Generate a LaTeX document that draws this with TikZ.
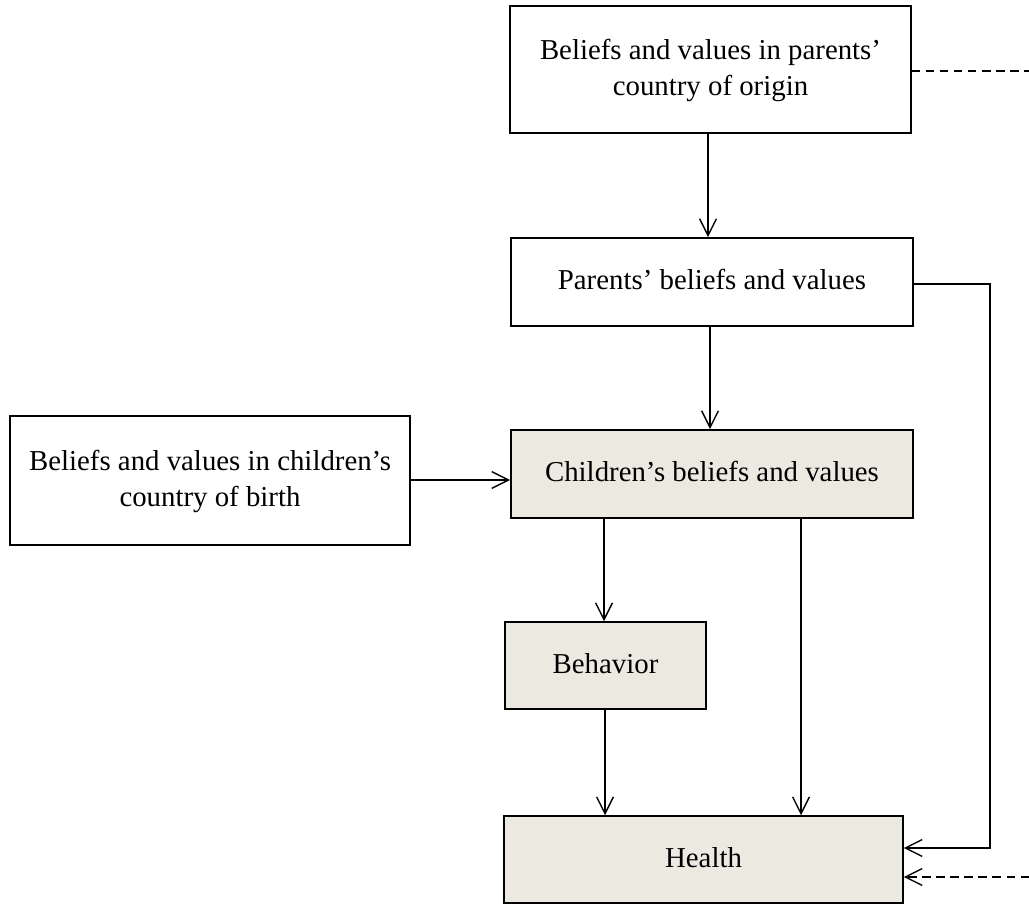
\documentclass[tikz,border=0pt]{standalone}
\usepackage{fontspec}
\setmainfont{Liberation Serif}
\usetikzlibrary{arrows.meta}
\definecolor{beige}{RGB}{236,233,224}
\begin{document}
\begin{tikzpicture}[x=0.025cm,y=-0.025cm]

\tikzset{caja/.style={rectangle,draw,line width=1.2pt,inner sep=0pt,align=center,text depth=0.35em,font=\fontsize{20.5}{25.6}\selectfont,fill=white}}
\tikzset{cajagris/.style={caja,fill=beige}}
\tikzset{flecha/.style={-{Straight Barb[length=4.2mm,width=4.2mm,line width=1pt]},line width=1pt}}

\useasboundingbox (0,0) rectangle (1029,905);

\draw (710.5,69.5) node[caja,minimum width=10.02cm,minimum height=3.17cm](origen) {Beliefs and values in parents'\\country of origin};
\draw (712,282) node[caja,minimum width=10.05cm,minimum height=2.2cm](padres) {Parents' beliefs and values};
\draw (712,474) node[cajagris,minimum width=10.05cm,minimum height=2.2cm](hijos) {Children's beliefs and values};
\draw (210,480.5) node[caja,minimum width=10cm,minimum height=3.22cm](nacimiento) {Beliefs and values in children's\\country of birth};
\draw (605.5,665.5) node[cajagris,minimum width=5.02cm,minimum height=2.17cm](conducta) {Behavior};
\draw (703.5,859.5) node[cajagris,minimum width=9.97cm,minimum height=2.17cm](salud) {Health};

\coordinate (fin1) at (1029,71);
\coordinate (fin2) at (1029,877);

\draw[flecha] (origen.south -| 708,0) -- (padres.north -| 708,0);
\draw[flecha] (padres.south -| 710,0) -- (hijos.north -| 710,0);
\draw[flecha] (nacimiento.east |- 0,480) -- (hijos.west |- 0,480);
\draw[flecha] (hijos.south -| 604,0) -- (conducta.north -| 604,0);
\draw[flecha] (conducta.south -| 605,0) -- (salud.north -| 605,0);
\draw[flecha] (hijos.south -| 801,0) -- (salud.north -| 801,0);
\draw[flecha] (padres.east |- 0,284) -| (990,848) -- (salud.east |- 0,848);
\draw[line width=1pt,dashed,dash pattern=on 6pt off 4pt] (origen.east |- fin1) -- (fin1);
\draw[flecha,dashed,dash pattern=on 6pt off 4pt] (fin2) -- (salud.east |- fin2);

\end{tikzpicture}
\end{document}
